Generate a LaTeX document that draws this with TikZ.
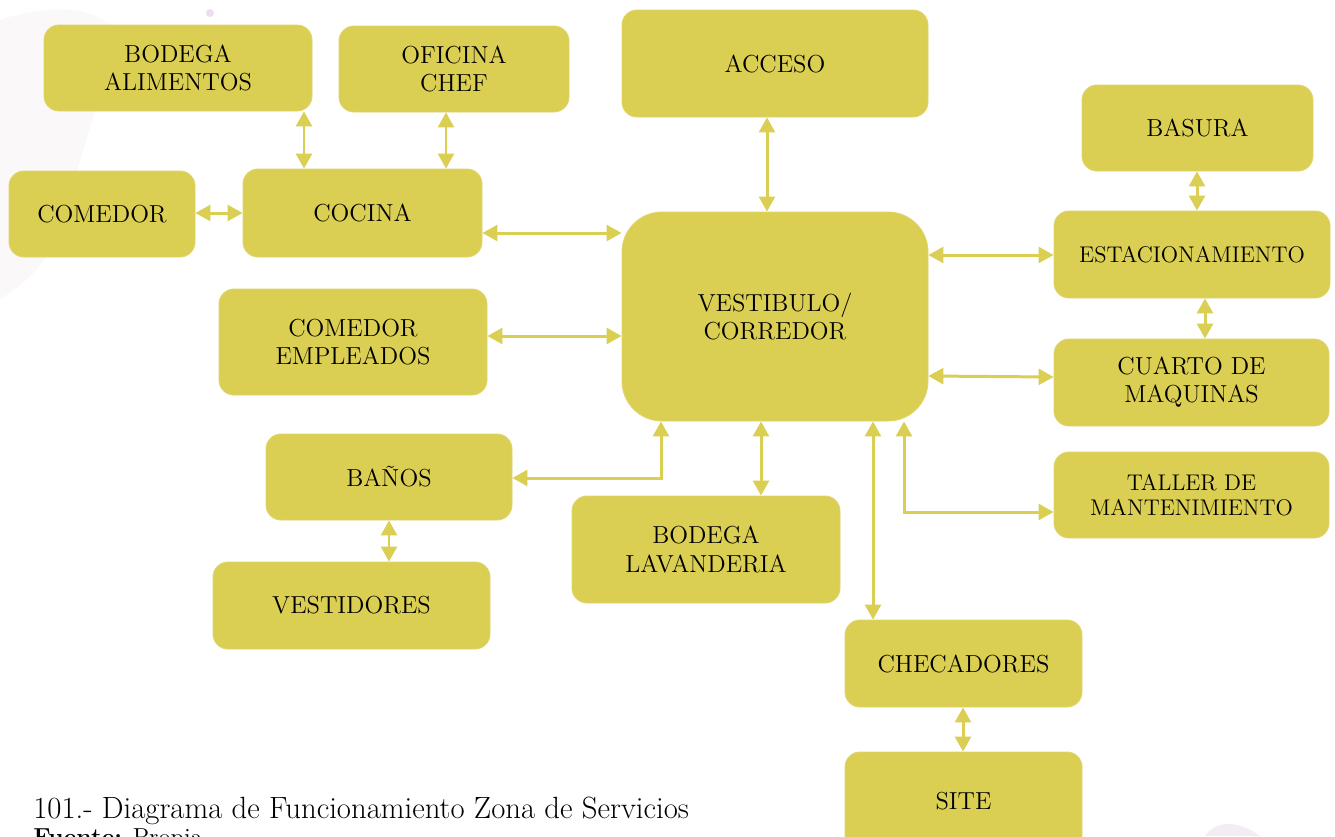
\documentclass[tikz,border=0pt]{standalone}
\usetikzlibrary{arrows.meta}
\definecolor{boxc}{HTML}{DACE53}
\definecolor{stain}{HTML}{C9A3C4}
\tikzset{
  box/.style={fill=boxc, draw=boxc!85!white, line width=0.5pt, rounded corners=0.3cm,
    align=center, font=\fontsize{14}{16}\selectfont, inner sep=0pt, text=black},
  bigbox/.style={rounded corners=0.8cm},
  smalltxt/.style={font=\fontsize{12.9}{14.5}\selectfont},
  arr/.style={draw=boxc, line width=1.7pt,
    arrows={Triangle[width=9pt,length=8.5pt]-Triangle[width=9pt,length=8.5pt]}},
  captxt/.style={anchor=base west, inner sep=0pt, font=\fontsize{17.5}{20}\selectfont},
}
\newcommand\bx[7][]{\node[box,#1, minimum width={(#5-#3)*0.02cm}, minimum height={(#6-#4)*0.02cm}] (#2) at ({(#3+#5)/2},{(#4+#6)/2}) {#7};}
\begin{document}
\begin{tikzpicture}[x=0.02cm,y=-0.02cm]
\path[use as bounding box, clip] (0,0) rectangle (1335,836);
\fill[white] (0,0) rectangle (1335,836);
% faint watercolor stains
\fill[stain, opacity=0.07] (0,20) .. controls (60,0) and (110,10) .. (120,40) .. controls (100,90) and (80,160) .. (60,230) .. controls (40,280) and (10,290) .. (0,300) -- cycle;
\fill[stain, opacity=0.35] (210,13) circle (4);
\fill[stain, opacity=0.2] (1205,836) .. controls (1215,822) and (1235,818) .. (1260,836) -- cycle;
% boxes
\bx{ba}{44}{25}{312}{111}{BODEGA\\ALIMENTOS}
\bx{oc}{339}{26}{569}{112}{OFICINA\\CHEF}
\bx{ac}{622}{10}{928}{117}{ACCESO}
\bx{bs}{1082}{85}{1313}{171}{BASURA}
\bx{cm}{9}{171}{195}{257}{COMEDOR}
\bx{co}{243}{169}{482}{257}{COCINA}
\bx[bigbox]{ve}{622}{212}{928}{421}{VESTIBULO/\\CORREDOR}
\bx[smalltxt]{es}{1054}{211}{1330}{298}{ESTACIONAMIENTO}
\bx{ce}{219}{289}{487}{395}{COMEDOR\\EMPLEADOS}
\bx{cq}{1054}{339}{1329}{426}{CUARTO DE\\MAQUINAS}
\bx{bn}{266}{434}{512}{520}{BAÑOS}
\bx{bl}{572}{496}{840}{603}{BODEGA\\LAVANDERIA}
\bx[smalltxt]{tm}{1054}{452}{1329}{538}{TALLER DE\\MANTENIMIENTO}
\bx{vd}{213}{562}{490}{649}{VESTIDORES}
\bx{ch}{845}{620}{1082}{707}{CHECADORES}
\bx{si}{845}{752}{1082}{850}{SITE}
% connectors
\draw[arr] (304,0 |- ba.south) -- (304,0 |- co.north);
\draw[arr] (446,0 |- oc.south) -- (446,0 |- co.north);
\draw[arr] (cm.east |- 0,213) -- (co.west |- 0,213);
\draw[arr] (co.east |- 0,233) -- (ve.west |- 0,233);
\draw[arr] (767,0 |- ac.south) -- (767,0 |- ve.north);
\draw[arr] (ce.east |- 0,336) -- (ve.west |- 0,336);
\draw[arr] (ve.east |- 0,255) -- (es.west |- 0,255);
\draw[arr] (1197,0 |- bs.south) -- (1197,0 |- es.north);
\draw[arr] (1205,0 |- es.south) -- (1205,0 |- cq.north);
\draw[arr] (ve.east |- 0,376) -- (cq.west |- 0,377);
\draw[arr] (bn.east |- 0,478) -- (661,478) -- (661,0 |- ve.south);
\draw[arr] (761,0 |- ve.south) -- (761,0 |- bl.north);
\draw[arr] (873,0 |- ve.south) -- (873,0 |- ch.north);
\draw[arr] (tm.west |- 0,512) -- (904,512) -- (904,0 |- ve.south);
\draw[arr] (389,0 |- bn.south) -- (389,0 |- vd.north);
\draw[arr] (963,0 |- ch.south) -- (963,0 |- si.north);
% caption
\node[captxt] (cap) at (33,818) {101.- Diagrama de Funcionamiento Zona de Servicios};
\node[captxt, font=\fontsize{14}{16}\selectfont] (src) at (33,845) {\textbf{Fuente:} Propia};
\end{tikzpicture}
\end{document}
